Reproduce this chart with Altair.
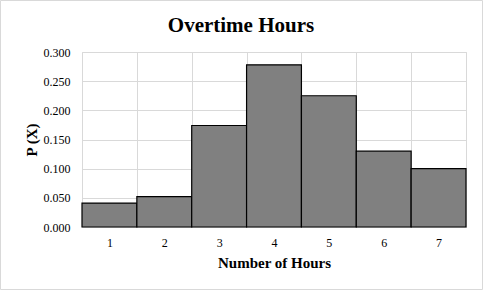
import altair as alt
import pandas as pd

hours = [1, 2, 3, 4, 5, 6, 7]
probs = [0.041, 0.052, 0.174, 0.278, 0.225, 0.130, 0.100]
title_text = ["Overtime Hours"]

df = pd.DataFrame({"hours": hours, "p": probs})

FONT = "Liberation Serif"

bars = alt.Chart(df).mark_bar(
    color="#808080", stroke="#000000", strokeWidth=1.2
).encode(
    x=alt.X("hours:O", title="Number of Hours",
            scale=alt.Scale(paddingInner=0, paddingOuter=0),
            axis=alt.Axis(labelAngle=0, tickBand="extent", grid=True, ticks=False,
                          domain=True, domainColor="#d9d9d9", gridColor="#d9d9d9",
                          labelFont=FONT, labelFontSize=12, labelColor="#000000",
                          labelPadding=10, titleFont=FONT, titleFontSize=15,
                          titleFontWeight="bold", titleColor="#000000", titlePadding=7)),
    y=alt.Y("p:Q", title="P (X)",
            scale=alt.Scale(domain=[0, 0.3], nice=False),
            axis=alt.Axis(values=[0, 0.05, 0.1, 0.15, 0.2, 0.25, 0.3], format=".3f",
                          grid=True, gridColor="#d9d9d9", domain=False, ticks=False,
                          labelFont=FONT, labelFontSize=12, labelColor="#000000",
                          labelPadding=12, titleFont=FONT, titleFontSize=15,
                          titleFontWeight="bold", titleColor="#000000", titlePadding=4)),
)

border = alt.Chart(pd.DataFrame({"a": [0]})).mark_rect(
    fill=None, stroke="#d9d9d9", strokeWidth=1
).encode(
    x=alt.value(-81.5), x2=alt.value(400.5), y=alt.value(-51.5), y2=alt.value(237.5)
)

title = alt.Chart(pd.DataFrame({"t": title_text})).mark_text(
    font=FONT, fontSize=21, fontWeight="bold", color="#000000",
    align="center", baseline="alphabetic"
).encode(
    text="t:N", x=alt.value(159), y=alt.value(-20)
)

chart = alt.layer(border, bars, title).properties(
    width=384, height=175,
    autosize=alt.AutoSizeParams(type="none"),
    padding={"left": 82, "top": 52, "right": 17, "bottom": 63},
).configure_view(stroke=None).configure(background="white")

chart.save("out.html", embed_options={"renderer": "svg", "actions": False})
